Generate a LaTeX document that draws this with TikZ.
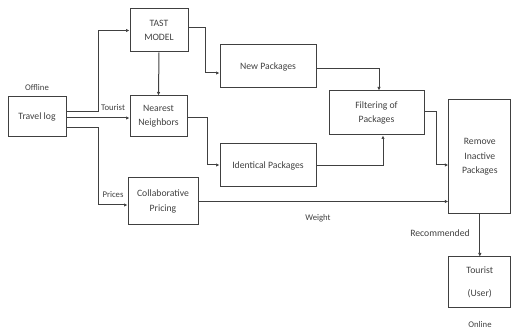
\documentclass[tikz,border=0pt]{standalone}
\usepackage{fontspec}
\setmainfont{Carlito}
\usetikzlibrary{arrows.meta}
\definecolor{ink}{HTML}{404040}
\begin{document}
\begin{tikzpicture}[x=1pt,y=-1pt,
  box/.style={draw=ink,line width=1pt,text=ink,align=center,inner sep=1pt,
    font=\fontsize{9.7}{14.3}\selectfont},
  lab/.style={text=ink,inner sep=0pt,font=\fontsize{8.7}{10}\selectfont},
  arr/.style={draw=ink,line width=1pt,-{Latex[length=3.5pt,width=3.5pt]}}]
\useasboundingbox (0,0) rectangle (512,331);
\node[box,minimum width=58pt,minimum height=40pt] (trav) at (37,117) {Travel log};
\node[box,minimum width=58pt,minimum height=43pt] (tast) at (159,30.5) {TAST\\MODEL};
\node[box,minimum width=57pt,minimum height=41pt] (nn) at (158.5,116.5) {Nearest\\Neighbors};
\node[box,minimum width=96pt,minimum height=43pt] (np) at (268,66.5) {New Packages};
\node[box,minimum width=96pt,minimum height=43pt] (ip) at (268,165.5) {Identical Packages};
\node[box,minimum width=95pt,minimum height=44pt] (filt) at (376.5,113) {Filtering of\\Packages};
\node[box,minimum width=62pt,minimum height=114pt] (rm) at (479.8,157) {Remove\\Inactive\\Packages};
\node[box,minimum width=62pt,minimum height=51pt,font=\fontsize{9.7}{23}\selectfont] (tu) at (479.8,282.5) {Tourist\\(User)};
\node[box,minimum width=70pt,minimum height=47pt] (cp) at (163,201.5) {Collaborative\\Pricing};

\node[lab] (off) at (37,88) {Offline};
\node[lab] (on) at (480,325) {Online};
\node[lab] (ltour) at (113,108) {Tourist};
\node[lab] (lpri) at (113,195) {Prices};
\node[lab] (lwei) at (318,218) {Weight};
\node[lab,font=\fontsize{9.7}{11}\selectfont] (lrec) at (440,233) {Recommended};

\draw[arr] ([yshift=5pt]trav.east) -- ++(32pt,0) |- (tast.west);
\draw[arr] ([yshift=-1pt]trav.east) -- ([yshift=-1.5pt]nn.west);
\draw[arr] ([yshift=-11pt]trav.east) -- ++(32pt,0) |- ([yshift=-3.5pt]cp.west);
\draw[arr] (tast.south) -- (nn.north);
\draw[arr] ([yshift=2.5pt]tast.east) -- ++(17pt,0) |- ([yshift=-6.5pt]np.west);
\draw[arr] ([yshift=-1.5pt]nn.east) -- ++(20pt,0) |- ([yshift=0.5pt]ip.west);
\draw[arr] ([yshift=-2.5pt]np.east) -| ([xshift=2.5pt]filt.north);
\draw[arr] ([yshift=-0.5pt]ip.east) -| ([xshift=6.5pt]filt.south);
\draw[arr] ([yshift=1pt]filt.east) -- ++(12pt,0) |- ([yshift=-8pt]rm.west);
\draw[arr] (cp.east) -- (cp.east -| rm.west);
\draw[arr] (rm.south) -- (tu.north);
\end{tikzpicture}
\end{document}
